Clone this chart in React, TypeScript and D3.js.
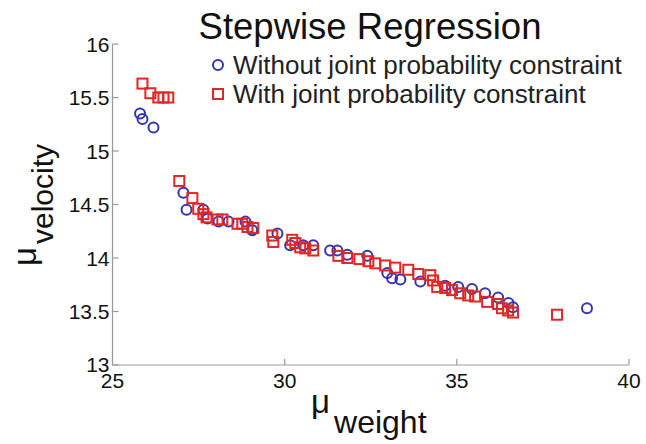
import React from "react";
import * as d3 from "d3";

const withoutX = [25.8, 25.87, 26.19, 27.06, 27.15, 27.64, 27.76, 28.08, 28.37, 28.86, 29.06, 29.79, 30.16, 30.54, 30.83, 31.32, 31.53, 31.82, 32.4, 32.98, 33.12, 33.36, 33.94, 34.66, 35.04, 35.44, 35.82, 36.2, 36.5, 36.63, 38.78];
const withoutY = [15.35, 15.3, 15.22, 14.61, 14.45, 14.45, 14.37, 14.34, 14.34, 14.34, 14.26, 14.23, 14.12, 14.12, 14.12, 14.07, 14.07, 14.03, 14.02, 13.86, 13.81, 13.8, 13.78, 13.74, 13.73, 13.71, 13.67, 13.63, 13.58, 13.54, 13.53];

const withX = [25.87, 26.1, 26.33, 26.48, 26.62, 26.94, 27.32, 27.49, 27.64, 27.73, 28.05, 28.19, 28.63, 28.77, 28.92, 29.09, 29.64, 29.67, 30.22, 30.31, 30.45, 30.6, 30.83, 31.56, 31.82, 32.17, 32.43, 32.63, 32.92, 33.21, 33.59, 33.88, 34.23, 34.31, 34.43, 34.66, 34.86, 35.1, 35.33, 35.53, 35.88, 36.2, 36.31, 36.49, 36.63, 37.91];
const withY = [15.63, 15.54, 15.5, 15.5, 15.5, 14.72, 14.56, 14.46, 14.41, 14.38, 14.36, 14.36, 14.32, 14.32, 14.29, 14.28, 14.21, 14.15, 14.17, 14.14, 14.1, 14.09, 14.07, 14.02, 14.0, 13.99, 13.97, 13.95, 13.93, 13.91, 13.89, 13.85, 13.84, 13.79, 13.73, 13.72, 13.7, 13.67, 13.65, 13.64, 13.59, 13.57, 13.53, 13.51, 13.49, 13.47];

const xTicks = [25, 30, 35, 40];
const yTicks = [13, 13.5, 14, 14.5, 15, 15.5, 16];

const title = "Stepwise Regression";
const legendLabels = ["Without joint probability constraint", "With joint probability constraint"];

const BLUE = "#3535b0";
const RED = "#e02626";
const AXIS = "#999";
const FONT = "'Liberation Sans', Arial, sans-serif";

export default function App() {
  const W = 646, H = 444;
  const x = d3.scaleLinear().domain([25, 40]).range([112.5, 629]);
  const y = d3.scaleLinear().domain([13, 16]).range([365, 44]);
  const x0 = x(25), y0 = y(13);

  return (
    <svg width={W} height={H} style={{ position: "absolute", left: 0, top: 0, background: "#fff" }} fontFamily={FONT}>
      <rect width={W} height={H} fill="#fff" />
      {/* axes */}
      <line x1={x0} x2={x(40)} y1={y0} y2={y0} stroke={AXIS} strokeWidth={1.2} />
      <line x1={x0} x2={x0} y1={y0} y2={y(16)} stroke={AXIS} strokeWidth={1.2} />
      {xTicks.map((t) => (
        <g key={"xt" + t}>
          <line x1={x(t)} x2={x(t)} y1={y0} y2={y0 - 6} stroke={AXIS} strokeWidth={1.2} />
          <text x={x(t)} y={y0 + 23} textAnchor="middle" fontSize={21} fill="#111">{t}</text>
        </g>
      ))}
      {yTicks.map((t) => (
        <g key={"yt" + t}>
          <line x1={x0} x2={x0 + 6} y1={y(t)} y2={y(t)} stroke={AXIS} strokeWidth={1.2} />
          <text x={x0 - 3} y={y(t) + (t === 13 ? 6.5 : 7.5)} textAnchor="end" fontSize={21} fill="#111">{t}</text>
        </g>
      ))}
      {/* data */}
      {withoutX.map((v, i) => (
        <circle key={"c" + i} cx={x(v)} cy={y(withoutY[i])} r={5} fill="none" stroke={BLUE} strokeWidth={2} />
      ))}
      {withX.map((v, i) => (
        <rect key={"s" + i} x={x(v) - 5} y={y(withY[i]) - 5} width={10} height={10} fill="none" stroke={RED} strokeWidth={2} />
      ))}
      {/* title */}
      <text x={370} y={39} textAnchor="middle" fontSize={36.5} fill="#111">{title}</text>
      {/* legend */}
      <circle cx={218} cy={65} r={5} fill="none" stroke={BLUE} strokeWidth={2} />
      <text x={233} y={74} fontSize={26} fill="#222">{legendLabels[0]}</text>
      <rect x={213} y={89} width={10} height={10} fill="none" stroke={RED} strokeWidth={2} />
      <text x={233} y={103} fontSize={26} fill="#222">{legendLabels[1]}</text>
      {/* x label */}
      <text x={311} y={413} fontSize={33} fill="#111">
        μ<tspan dx={4} dy={20} fontSize={32}>weight</tspan>
      </text>
      {/* y label */}
      <text transform="rotate(-90)" x={-266} y={36} fontSize={33} fill="#111">
        μ<tspan dx={3} dy={17} fontSize={30}>velocity</tspan>
      </text>
    </svg>
  );
}
